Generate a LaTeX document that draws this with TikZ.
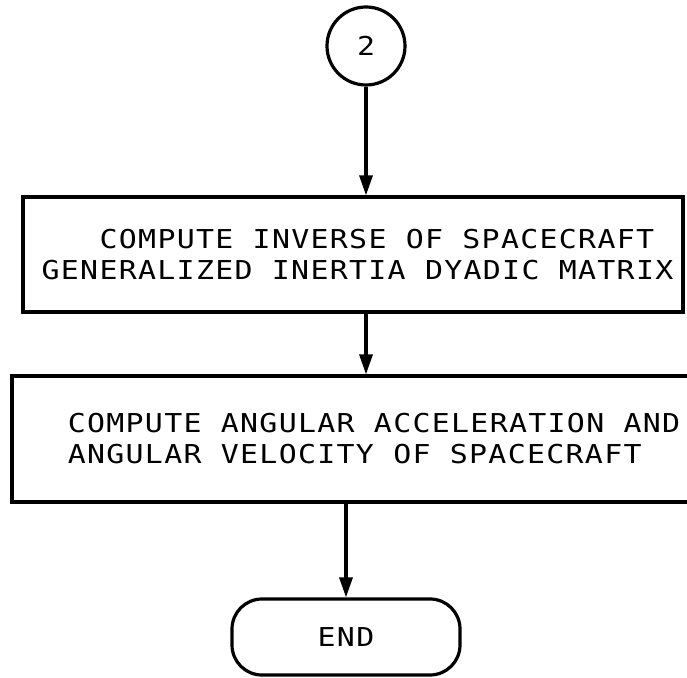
\documentclass[tikz,border=0pt]{standalone}
\usepackage{fontspec}
\setmonofont[FakeStretch=1.15,LetterSpace=5]{DejaVu Sans Mono}
\usetikzlibrary{arrows.meta,shapes.geometric}

\begin{document}
\begin{tikzpicture}[x=1pt,y=1pt,
	every node/.style={font=\ttfamily\fontsize{26}{31}\selectfont},
	stepbox/.style={draw, line width=3.2pt, rectangle, align=left, inner sep=0pt},
	flow/.style={line width=3.2pt, -{Triangle[length=20pt,width=13pt]}}]
 	\useasboundingbox (0,0) rectangle (687,677);
 	%\draw[help lines,step=50] (0,0) grid (687,677);

	\node[draw, circle, line width=3.2pt, minimum size=78pt] (conn) at (366,631) {2};

	\node[stepbox, minimum width=660pt, minimum height=115pt] (inv) at (353,422.5)
		{\hspace*{67pt}COMPUTE INVERSE OF SPACECRAFT\\\hspace*{9pt}GENERALIZED INERTIA DYADIC MATRIX};

	\node[stepbox, minimum width=724pt, minimum height=126pt] (acc) at (374,238)
		{COMPUTE ANGULAR ACCELERATION AND\\ANGULAR VELOCITY OF SPACECRAFT};

	\node[draw, line width=3.2pt, rounded corners=30pt, minimum width=228pt, minimum height=76pt] (fin) at (346,40) {END};

	\draw[flow] (conn.south) -- (conn.south |- inv.north);
	\draw[flow] (inv.south -| conn) -- (acc.north -| conn);
	\draw[flow] (acc.south -| fin) -- (fin.north);
\end{tikzpicture}
\end{document}
